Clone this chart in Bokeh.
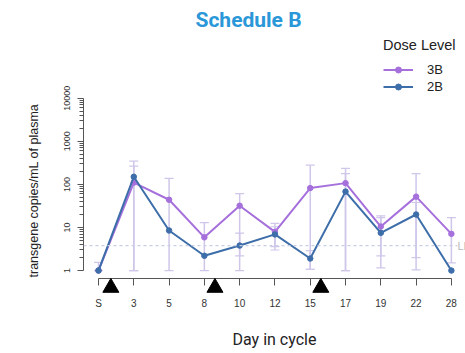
from bokeh.plotting import figure
from bokeh.models import (Range1d, FixedTicker, Whisker, TeeHead, ColumnDataSource,
                          Legend, LegendItem, Span, Label, Title)
from bokeh.embed import file_html
from bokeh.resources import INLINE

# Sampling days in the cycle (S = screening)
days = ["S", "3", "5", "8", "10", "12", "15", "17", "19", "22", "28"]

# Median transgene copies/mL of plasma per dose level
level_3b = [1, 110, 44, 5.9, 32, 7.9, 82, 107, 10.5, 52, 7.1]
level_2b = [1, 150, 8.5, 2.2, 3.8, 6.9, 1.9, 68, 7.5, 20, 1]

# Ranges (error bars) for 3B at every day
low_3b = [1, 1, 1, 1, 1, 3.0, 1.07, 1, 1.15, 1.04, 1.5]
high_3b = [1.55, 347, 138, 13, 61, 12.4, 280, 235, 18.6, 177, 17]

# Ranges for 2B where reported
idx_2b = [1, 4, 5, 6, 7, 8, 9]
low_2b = [1, 2.2, 3.6, 1.07, 1, 2.2, 2.0]
high_2b = [265, 7.4, 10.4, 2.9, 177, 17, 38]

# Dosing events, placed between sampling days on the category scale
dose_pos = [0.35, 3.3, 6.3]

# Lower limit of quantification
lloq = 3.8

x = list(range(len(days)))

PURPLE = "#a670dc"
BLUE = "#3d6ea9"
BAR = "#cfc6ea"

p = figure(width=465, height=353, output_backend="svg", toolbar_location=None,
           x_range=Range1d(-0.425, 10.4), y_range=Range1d(10 ** -0.185, 10 ** 5.434),
           y_axis_type="log", min_border_left=83, min_border_right=0,
           min_border_top=35, min_border_bottom=75)
p.outline_line_color = None
p.xgrid.visible = False
p.ygrid.visible = False

p.title.text = "Schedule B"
p.title.text_font = "Roboto"
p.title.text_font_style = "bold"
p.title.text_font_size = "21px"
p.title.text_color = "#2a97d8"
p.title.align = "left"
p.title.offset = 112

# x axis
xa = p.xaxis[0]
xa.ticker = FixedTicker(ticks=x)
xa.major_label_overrides = {i: d for i, d in enumerate(days)}
xa.bounds = (0, len(days) - 1)
xa.axis_line_color = "#555555"
xa.major_tick_line_color = "#555555"
xa.major_tick_out = 7
xa.major_tick_in = 0
xa.minor_tick_line_color = None
xa.major_label_text_font = "Liberation Sans"
xa.major_label_text_font_size = "10px"
xa.major_label_text_color = "#333333"
xa.major_label_standoff = 12
xa.axis_label = "Day in cycle"
xa.axis_label_text_font = "Roboto"
xa.axis_label_text_font_style = "normal"
xa.axis_label_text_font_size = "16px"
xa.axis_label_text_color = "#222222"
xa.axis_label_standoff = 18

# y axis
major = [1, 10, 100, 1000, 10000]
minor = [m * d for d in major[:-1] for m in range(2, 10)]
ya = p.yaxis[0]
ya.ticker = FixedTicker(ticks=major, minor_ticks=minor)
ya.major_label_overrides = {v: str(v) for v in major}
ya.bounds = (1, 10000)
ya.axis_line_color = "#555555"
ya.major_tick_line_color = "#555555"
ya.minor_tick_line_color = "#555555"
ya.major_tick_out = 6
ya.major_tick_in = 0
ya.minor_tick_out = 4
ya.minor_tick_in = 0
ya.major_label_orientation = "vertical"
ya.major_label_text_font = "Liberation Sans"
ya.major_label_text_font_size = "9px"
ya.major_label_text_color = "#333333"
ya.major_label_standoff = 7

# y axis title, starting at the low end of the axis
p.add_layout(Title(text="transgene copies/mL of plasma", align="left", offset=1,
                   standoff=42, text_font="Liberation Sans", text_font_size="12.5px",
                   text_font_style="normal", text_color="#222222"), "left")

# LLOQ reference
p.add_layout(Span(location=lloq, dimension="width", line_color="#c9cfe2",
                  line_dash="3 3", line_width=1.2))
p.add_layout(Label(x=len(days) - 1, y=lloq, text="LLOQ", x_offset=6,
                   text_baseline="middle", text_font="Liberation Sans",
                   text_font_size="11px", text_color="#b8b8b8",
                   background_fill_color="white"))

# error bars
src3 = ColumnDataSource(dict(x=x, lo=low_3b, hi=high_3b))
src2 = ColumnDataSource(dict(x=idx_2b, lo=low_2b, hi=high_2b))
for src in (src3, src2):
    p.add_layout(Whisker(source=src, base="x", lower="lo", upper="hi",
                         line_color=BAR, line_width=1.5,
                         lower_head=TeeHead(size=9, line_color=BAR, line_width=1.2),
                         upper_head=TeeHead(size=9, line_color=BAR, line_width=1.2)))

# series
l3 = p.line(x, level_3b, line_color=PURPLE, line_width=2)
d3 = p.scatter(x, level_3b, size=5.5, color=PURPLE)
l2 = p.line(x, level_2b, line_color=BLUE, line_width=2)
d2 = p.scatter(x, level_2b, size=5.5, color=BLUE)

# dosing markers under the axis
p.scatter(dose_pos, [0.4] * len(dose_pos), marker="triangle", size=16,
          color="black", level="overlay")

legend = Legend(items=[LegendItem(label="3B", renderers=[l3, d3]),
                       LegendItem(label="2B", renderers=[l2, d2])],
                title="Dose Level", location=(300, 184),
                border_line_color=None, background_fill_alpha=0,
                padding=0, margin=0, spacing=2, glyph_width=30, glyph_height=15,
                label_standoff=14, label_height=15,
                title_text_font="Liberation Sans", title_text_font_size="14.5px",
                title_text_font_style="normal",
                title_text_color="#222222", title_standoff=9,
                label_text_font="Liberation Sans", label_text_font_size="13px",
                label_text_color="#222222")
p.add_layout(legend)

open("out.html", "w").write(file_html(p, INLINE))
